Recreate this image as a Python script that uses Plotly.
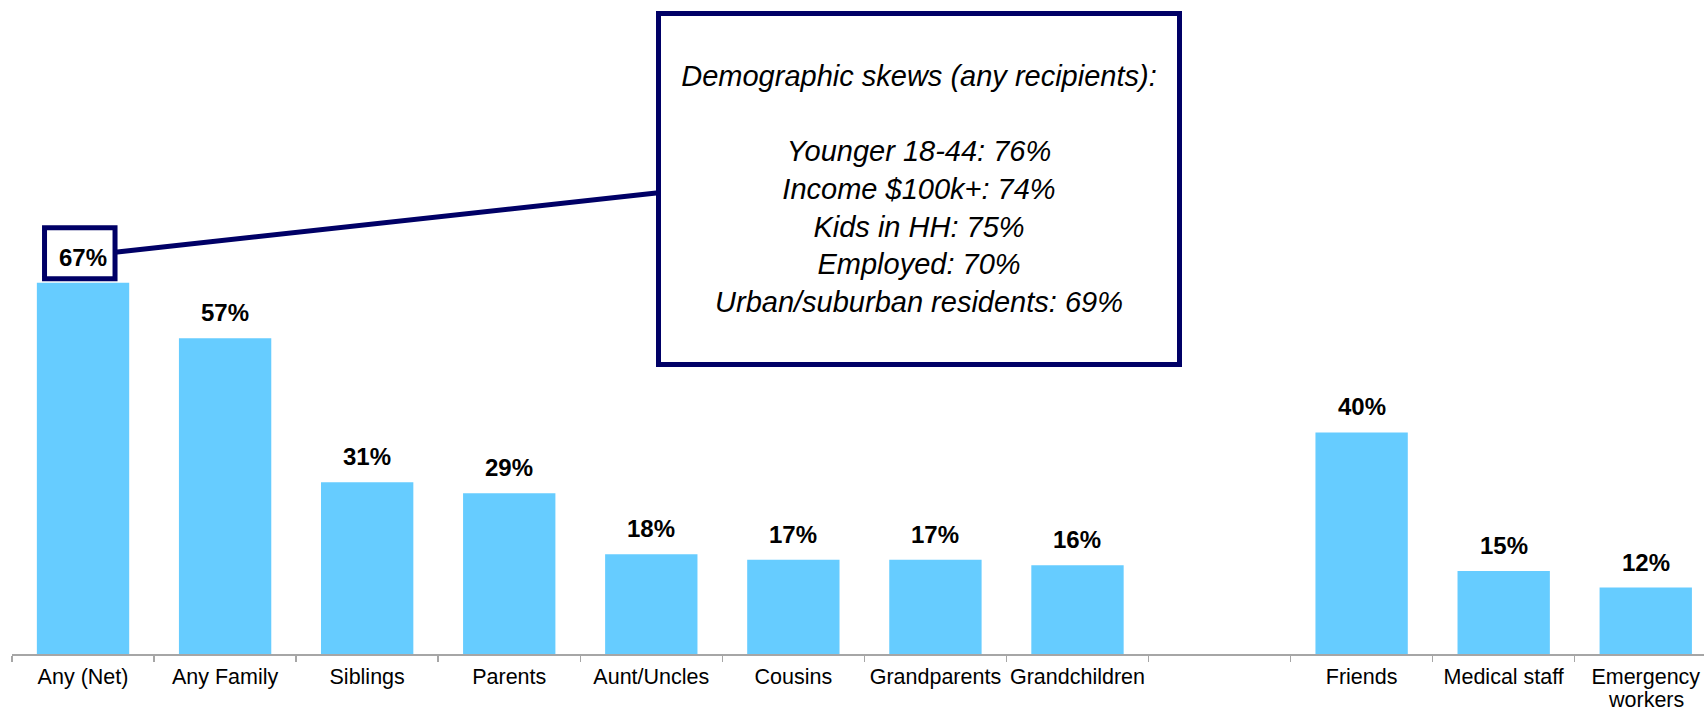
import plotly.graph_objects as go

# ---- data ----
categories = ["Any (Net)", "Any Family", "Siblings", "Parents", "Aunt/Uncles",
              "Cousins", "Grandparents", "Grandchildren", " ", "Friends",
              "Medical staff", "Emergency workers"]
tick_labels = ["Any (Net)", "Any Family", "Siblings", "Parents", "Aunt/Uncles",
               "Cousins", "Grandparents", "Grandchildren", "", "Friends",
               "Medical staff", "Emergency"]
tick_label_second_line = "workers"  # second line of "Emergency workers"
values = [67, 57, 31, 29, 18, 17, 17, 16, None, 40, 15, 12]
label_texts = [f"{v}%" if v is not None else "" for v in values]

skew_title = "Demographic skews (any recipients):"
skew_lines = ["Younger 18-44: 76%", "Income $100k+: 74%", "Kids in HH: 75%",
              "Employed: 70%", "Urban/suburban residents: 69%"]

FONT = "Arial, Liberation Sans, Helvetica, sans-serif"
BAR_COLOR = "#66CCFF"
NAVY = "#000066"

W, H = 1704, 711
ML, MR, MT, MB = 12, 0, 0, 57
plot_w = W - ML - MR
plot_h = H - MT - MB
px_per_pct = 5.54
TICK_FS = 21.5

fig = go.Figure()
fig.add_trace(go.Bar(
    x=categories, y=values,
    marker=dict(color=BAR_COLOR, line=dict(width=0)),
    hoverinfo="skip",
))

annotations = []
for c, v, t in zip(categories, values, label_texts):
    if v is None:
        continue
    annotations.append(dict(
        x=c, y=v, xref="x", yref="y", text=f"<b>{t}</b>",
        showarrow=False, yanchor="bottom", yshift=10,
        font=dict(family=FONT, size=24, color="#000000"),
    ))

# second line of the last tick label (tighter line spacing than Plotly's default)
annotations.append(dict(
    x=categories[-1], y=0, xref="x", yref="paper", text=tick_label_second_line,
    showarrow=False, yanchor="top", yshift=-32,
    font=dict(family=FONT, size=TICK_FS, color="#000000"),
))

# big demographic box
box_left_px, box_top_px = 656, 11
box_w, box_h, bw = 526, 356, 5
annotations.append(dict(
    xref="paper", yref="paper",
    x=(box_left_px - ML) / plot_w, y=1 - (box_top_px - MT) / plot_h,
    xanchor="left", yanchor="top",
    width=box_w - 2 * bw, height=box_h - 2 * bw,
    text="<i>" + skew_title + "<br><br>" + "<br>".join(skew_lines) + "</i>",
    showarrow=False, align="center", valign="middle",
    bordercolor=NAVY, borderwidth=bw, borderpad=0, bgcolor="#FFFFFF",
    font=dict(family=FONT, size=29, color="#000000"),
))

shapes = [
    # box around the first value label
    dict(type="rect", xref="x", yref="y", xsizemode="pixel", ysizemode="pixel",
         xanchor=0, yanchor=values[0], x0=-38.5, x1=32, y0=4, y1=55,
         line=dict(color=NAVY, width=5), fillcolor="rgba(0,0,0,0)", layer="above"),
    # connector line to the demographic box
    dict(type="line", xref="x", yref="y", xsizemode="pixel", ysizemode="pixel",
         xanchor=0, yanchor=values[0], x0=32, y0=30.6, x1=580, y1=90.6,
         line=dict(color=NAVY, width=5), layer="above"),
]

fig.update_layout(
    width=W, height=H,
    margin=dict(l=ML, r=MR, t=MT, b=MB, autoexpand=False),
    paper_bgcolor="#FFFFFF", plot_bgcolor="#FFFFFF",
    bargap=0.35, showlegend=False,
    font=dict(family=FONT, color="#000000"),
    annotations=annotations, shapes=shapes,
    xaxis=dict(
        type="category", range=[-0.5, 11.41], tickson="boundaries",
        tickmode="array", tickvals=categories, ticktext=tick_labels,
        tickangle=0,
        ticks="outside", ticklen=6, tickwidth=1.5, tickcolor="#A6A6A6",
        showline=True, linecolor="#A6A6A6", linewidth=1.5,
        tickfont=dict(family=FONT, size=TICK_FS, color="#000000"),
        ticklabelstandoff=3, automargin=False,
        showgrid=False, zeroline=False, fixedrange=True,
    ),
    yaxis=dict(
        range=[0, plot_h / px_per_pct], visible=False, showgrid=False,
        zeroline=False, fixedrange=True, automargin=False,
    ),
)

fig.write_html(
    "out.html",
    config={"displayModeBar": False, "staticPlot": True},
    post_script="document.body.style.margin='0';document.body.style.overflow='hidden';",
)
